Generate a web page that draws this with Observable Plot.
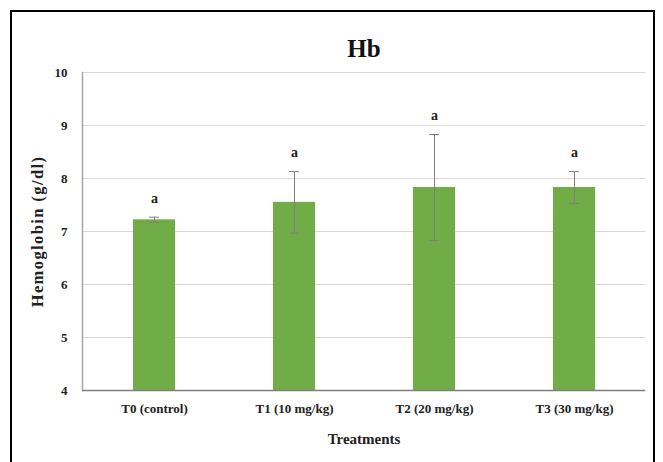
<!DOCTYPE html>
<html>
<head>
<meta charset="utf-8">
<script src="https://cdn.jsdelivr.net/npm/d3@7"></script>
<script src="https://cdn.jsdelivr.net/npm/@observablehq/plot@0.6"></script>
<style>
  html, body { margin: 0; padding: 0; background: #fff; overflow: hidden; }
  #wrap { position: relative; width: 663px; height: 462px; }
  #border { position: absolute; left: 10px; top: 10px; width: 645px; height: 470px; border: 2px solid #000; box-sizing: border-box; pointer-events: none; }
  #chart { position: absolute; left: 0; top: 0; }
  svg text { font-family: "Liberation Serif", "DejaVu Serif", serif !important; }
  .ytitle text { letter-spacing: 1.4px; }
</style>
</head>
<body>
<div id="wrap"><div id="chart"></div><div id="border"></div></div>
<script>
const categories = ["T0 (control)", "T1 (10 mg/kg)", "T2 (20 mg/kg)", "T3 (30 mg/kg)"];
const means = [7.22, 7.55, 7.83, 7.83];
const errors = [0.05, 0.58, 1.0, 0.3];
const letters = ["a", "a", "a", "a"];
const yTicks = [4, 5, 6, 7, 8, 9, 10];
const yDomain = [4, 10];
const title = "Hb";
const xTitle = "Treatments";
const yTitle = "Hemoglobin (g/dl)";

const data = categories.map((c, i) => ({
  cat: c, mean: means[i], lo: means[i] - errors[i], hi: means[i] + errors[i], letter: letters[i]
}));

const serif = '"Liberation Serif", serif';

const plot = Plot.plot({
  width: 663,
  height: 462,
  marginLeft: 82,
  marginRight: 18,
  marginTop: 72,
  marginBottom: 72,
  style: { fontFamily: serif, background: "transparent" },
  x: { domain: categories, paddingInner: 0.7, paddingOuter: 0.35, label: null },
  y: { domain: yDomain, ticks: yTicks, label: null },
  marks: [
    Plot.gridY(yTicks.slice(1), { stroke: "#d9d9d9", strokeOpacity: 1, strokeWidth: 1 }),
    Plot.barY(data, { x: "cat", y1: yDomain[0], y2: "mean", fill: "#70ad47" }),
    Plot.ruleX(data, { x: "cat", y1: "lo", y2: "hi", stroke: "#7f7f7f", strokeWidth: 1 }),
    Plot.tickY(data, { x: "cat", y: "lo", stroke: "#7f7f7f", strokeWidth: 1, insetLeft: 16, insetRight: 16 }),
    Plot.tickY(data, { x: "cat", y: "hi", stroke: "#7f7f7f", strokeWidth: 1, insetLeft: 16, insetRight: 16 }),
    Plot.text(data, { x: "cat", y: "hi", text: "letter", dy: -19, fontSize: 14, fontWeight: "bold", fill: "#222", fontFamily: serif }),
    Plot.axisY({ ticks: yTicks, tickFormat: d3.format("d"), tickSize: 0, tickPadding: 15, fontSize: 13, fontWeight: "bold", fill: "#222", fontFamily: serif, label: null }),
    Plot.axisX({ tickSize: 0, tickPadding: 13, fontSize: 13, fontWeight: "bold", fill: "#222", fontFamily: serif, label: null }),
    Plot.frame({ anchor: "left", stroke: "#a6a6a6", strokeWidth: 1.5 }),
    Plot.ruleY([yDomain[0]], { stroke: "#808080", strokeWidth: 1.5 }),
    Plot.text([title], { frameAnchor: "top", dy: -33, fontSize: 25, fontWeight: "bold", fill: "#111", fontFamily: serif }),
    Plot.text([xTitle], { frameAnchor: "bottom", dy: 53, fontSize: 15, fontWeight: "bold", fill: "#222", fontFamily: serif }),
    Plot.text([yTitle], { frameAnchor: "left", textAnchor: "middle", dx: -45, rotate: -90, fontSize: 16.5, fontWeight: "bold", fill: "#222", fontFamily: serif, className: "ytitle" })
  ]
});
document.getElementById("chart").appendChild(plot);
</script>
</body>
</html>
